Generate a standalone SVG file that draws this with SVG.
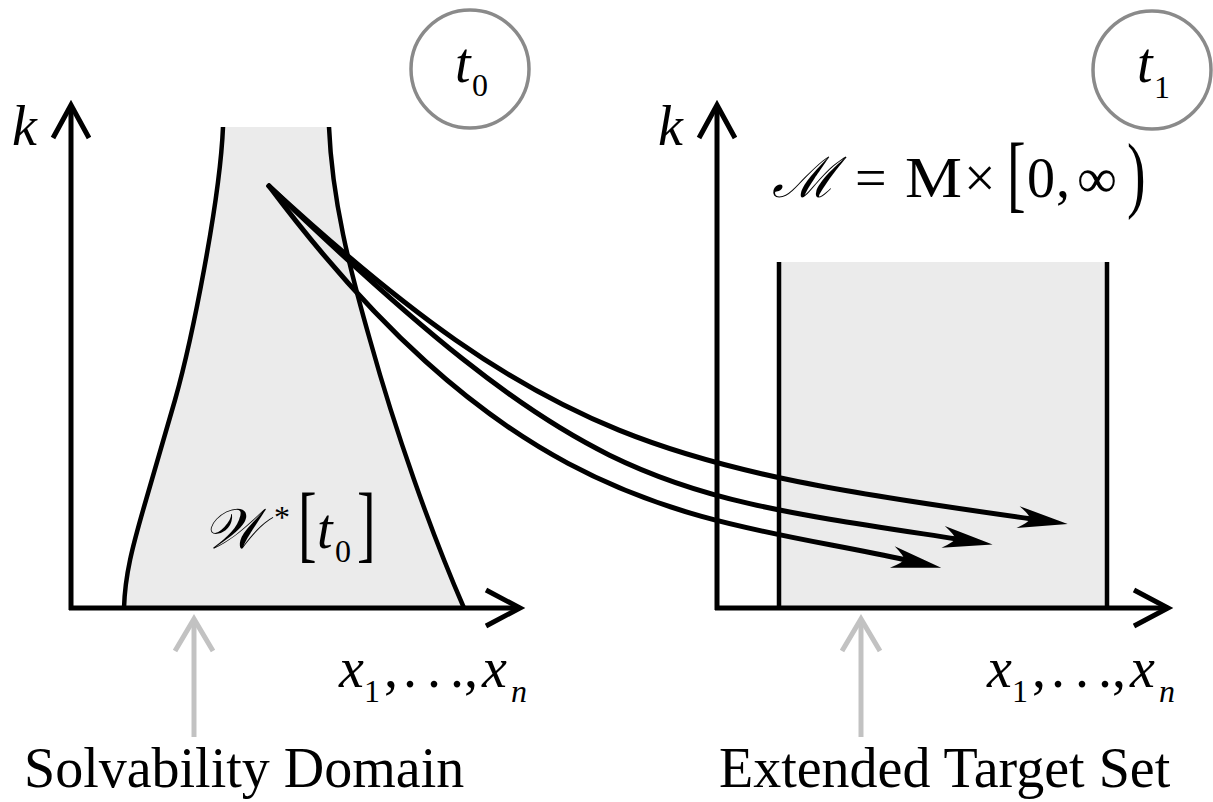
<svg xmlns="http://www.w3.org/2000/svg" width="1213" height="802" viewBox="0 0 1213 802">
<style>
  .fill { fill: #ebebeb; stroke: none; }
  .ax { fill: none; stroke: #000; stroke-width: 5; stroke-linecap: butt; stroke-linejoin: miter; }
  .bd { fill: none; stroke: #000; stroke-width: 4.5; }
  .traj { fill: none; stroke: #000; stroke-width: 5; stroke-linecap: round; marker-end: url(#stealth); }
  .gray { fill: none; stroke: #c2c2c2; stroke-width: 5; }
  .ring { fill: #fff; stroke: #8a8a8a; stroke-width: 3.5; }
  .m { font-size: 56px; }
  .sub { font-size: 32px; }
  .it { font-style: italic; }
</style>
<defs>
  <marker id="stealth" markerUnits="userSpaceOnUse" viewBox="-20 -15 60 30" markerWidth="60" markerHeight="30" refX="0" refY="0" orient="auto">
    <path d="M36,0 L-14,-11 Q-2,-3 -2,0 Q-2,3 -14,11 Z" fill="#000"/>
  </marker>
</defs>

<g font-family="'Liberation Serif', 'Times New Roman', serif" fill="#000">
<g id="panel-left">
  <path class="fill" d="M124,608 C125,575 132,548 146,500 L175,400 C192,340 220,200 223,127 L329,127 C332,200 350,270 370,340 C395,430 430,530 464,608 Z"/>
  <path class="bd" d="M124,608 C125,575 132,548 146,500 L175,400 C192,340 220,200 223,127"/>
  <path class="bd" d="M329,127 C332,200 350,270 370,340 C395,430 430,530 464,608"/>
  <line class="ax" x1="71" y1="610" x2="71" y2="106"/>
  <polyline class="ax" points="53,138 71,105 89,138"/>
  <line class="ax" x1="69" y1="608" x2="519" y2="608"/>
  <polyline class="ax" points="486,590 520,608 486,626"/>
  <text class="m it" x="12" y="145">k</text>
  <text class="m it" x="203" y="548">𝒲</text>
  <text class="sub" x="274" y="528">*</text>
  <text class="m" transform="translate(298,552) scale(1,1.5)">[</text>
  <text class="m it" x="317" y="548">t</text>
  <text class="sub" x="335" y="562">0</text>
  <text class="m" transform="translate(357,552) scale(1,1.5)">]</text>
  <text class="m it" x="339" y="687">x</text>
  <text class="sub" x="364" y="702">1</text>
  <text class="m" x="384" y="687">,</text>
  <text class="m" x="403" y="687">.</text>
  <text class="m" x="427" y="687">.</text>
  <text class="m" x="450" y="687">.</text>
  <text class="m" x="464" y="687">,</text>
  <text class="m it" x="482" y="687">x</text>
  <text class="sub it" x="511" y="702">n</text>
  <text class="m" x="24" y="787">Solvability Domain</text>
</g>

<g id="panel-right">
  <rect class="fill" x="779" y="262" width="328" height="346"/>
  <line class="bd" x1="779" y1="262" x2="779" y2="608"/>
  <line class="bd" x1="1107" y1="262" x2="1107" y2="608"/>
  <line class="ax" x1="717" y1="610" x2="717" y2="106"/>
  <polyline class="ax" points="699,138 717,105 735,138"/>
  <line class="ax" x1="715" y1="608" x2="1167" y2="608"/>
  <polyline class="ax" points="1134,590 1168,608 1134,626"/>
  <text class="m it" x="658" y="145">k</text>
  <text class="m it" x="772" y="197">ℳ</text>
  <text class="m" x="855" y="197">=</text>
  <text class="m" x="905" y="197" textLength="57" lengthAdjust="spacingAndGlyphs">M</text>
  <text class="m" x="964" y="197">×</text>
  <text class="m" transform="translate(1007,202) scale(1,1.5)">[</text>
  <text class="m" x="1027" y="197">0</text>
  <text class="m" x="1056" y="197">,</text>
  <text class="m" x="1077" y="197">∞</text>
  <text class="m" transform="translate(1127,202) scale(1,1.5)">)</text>
  <text class="m it" x="987" y="687">x</text>
  <text class="sub" x="1012" y="702">1</text>
  <text class="m" x="1032" y="687">,</text>
  <text class="m" x="1051" y="687">.</text>
  <text class="m" x="1075" y="687">.</text>
  <text class="m" x="1098" y="687">.</text>
  <text class="m" x="1112" y="687">,</text>
  <text class="m it" x="1130" y="687">x</text>
  <text class="sub it" x="1159" y="702">n</text>
  <text class="m" x="719" y="787">Extended Target Set</text>
</g>

<g id="label-t0">
  <circle class="ring" cx="470" cy="69" r="59"/>
  <text class="m it" x="455" y="82">t</text>
  <text class="sub" x="472" y="96">0</text>
</g>

<g id="label-t1">
  <circle class="ring" cx="1152" cy="70" r="59"/>
  <text class="m it" x="1137" y="82">t</text>
  <text class="sub" x="1154" y="98">1</text>
</g>
</g>

<g id="connectors">
  <path class="traj" d="M269,186 C549,444 668,468 1032,519"/>
  <path class="traj" d="M269,186 C589,493 657,493 957,539"/>
  <path class="traj" d="M269,186 C521,522 706,516 906,560"/>
  <line class="gray" x1="194" y1="737" x2="194" y2="619"/>
  <polyline class="gray" points="175,651 194,619 213,651"/>
  <line class="gray" x1="861" y1="737" x2="861" y2="619"/>
  <polyline class="gray" points="842,651 861,619 880,651"/>
</g>
</svg>
